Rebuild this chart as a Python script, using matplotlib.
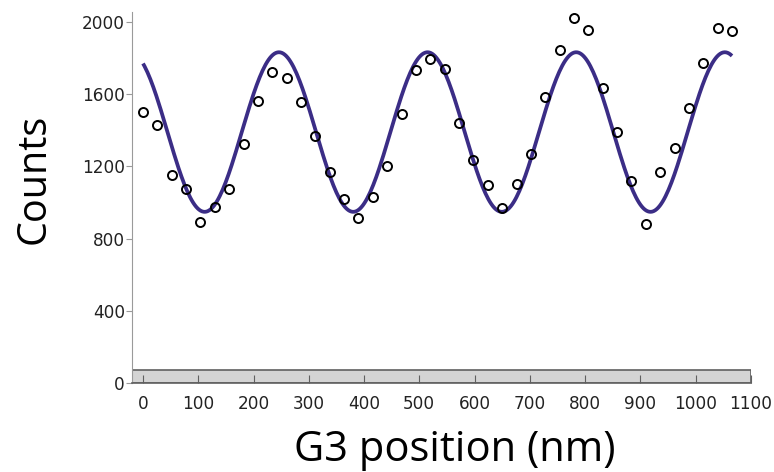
import numpy as np
import matplotlib
matplotlib.use('Agg')
import matplotlib.pyplot as plt

# measured points (G3 position in nm, counts)
pos = np.arange(0, 1067, 26)
counts = [1500, 1427, 1152, 1076, 893, 975, 1076, 1323, 1560, 1722, 1687,
          1558, 1369, 1166, 1017, 912, 1028, 1203, 1491, 1733, 1792, 1739,
          1441, 1233, 1094, 967, 1100, 1271, 1585, 1844, 2019, 1958, 1632,
          1388, 1118, 880, 1166, 1299, 1524, 1770, 1969, 1949]

# fitted cosine
fit_offset = 1390
fit_amp = 442
fit_period = 269
fit_peak = 246

xticks = list(range(0, 1101, 100))
yticks = [0, 400, 800, 1200, 1600, 2000]

fig = plt.figure(figsize=(7.74, 4.72), dpi=100)
ax = fig.add_axes([0.1705, 0.1886, 0.7995, 0.786])

xf = np.linspace(pos[0], pos[-1], 400)
yf = fit_offset + fit_amp * np.cos(2 * np.pi * (xf - fit_peak) / fit_period)
ax.plot(xf, yf, color='#3b2d86', lw=2.7, zorder=2, solid_capstyle='butt')
ax.plot(pos, counts, 'o', ms=6.5, mfc='none', mec='black', mew=1.4, zorder=3)

ax.axhspan(0, 72, facecolor='#d4d4d4', edgecolor='#606060', lw=1.2, zorder=1)

ax.set_xlim(-20, 1100)
ax.set_ylim(0, 2055)
ax.set_xticks(xticks)
ax.set_yticks(yticks)

ax.spines['top'].set_visible(False)
ax.spines['right'].set_visible(False)
ax.spines['left'].set_color('#9a9a9a')
ax.spines['bottom'].set_color('#606060')
ax.spines['bottom'].set_linewidth(1.2)

ax.tick_params(axis='x', direction='in', length=6, color='#606060', pad=9,
               labelsize=12.2, labelcolor='#222222')
ax.tick_params(axis='y', direction='out', length=4, color='#9a9a9a', pad=1,
               labelsize=12.2, labelcolor='#222222')

fig.text(0.044, 0.621, 'Counts', rotation=90, ha='center', va='center',
         fontsize=28.5, family='Open Sans')
fig.text(0.588, 0.047, 'G3 position (nm)', ha='center', va='center',
         fontsize=30, family='Open Sans')

fig.savefig('out.png', dpi=100)
